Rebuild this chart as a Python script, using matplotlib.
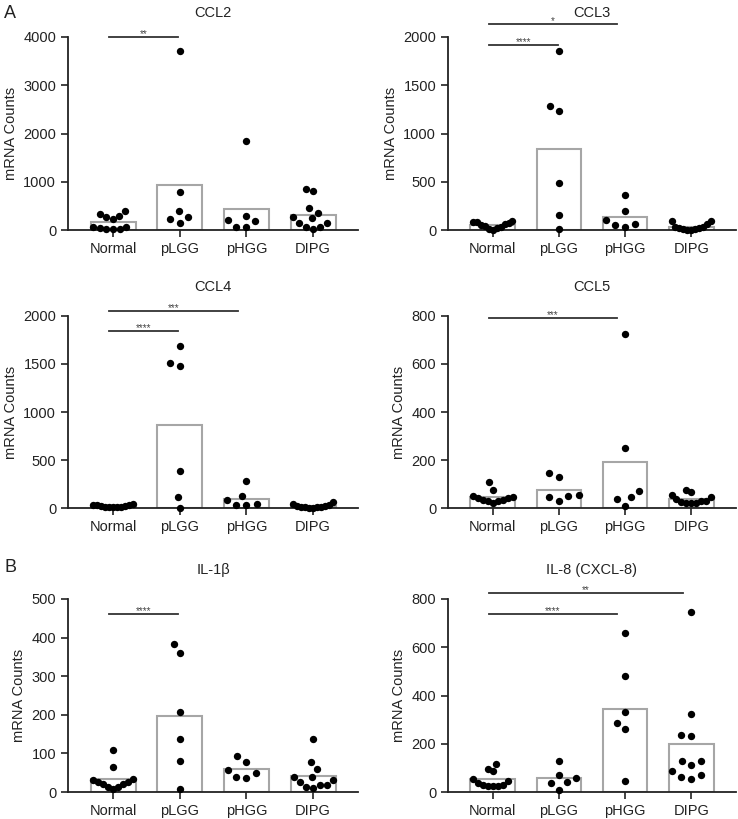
"""Scatter-over-bar plots of chemokine / cytokine mRNA counts by tumour group."""
import numpy as np
import matplotlib
matplotlib.use("Agg")
import matplotlib.pyplot as plt

plt.rcParams["font.family"] = ["Liberation Sans", "DejaVu Sans"]
plt.rcParams["text.color"] = "#222222"
plt.rcParams["axes.labelcolor"] = "#222222"
plt.rcParams["xtick.color"] = "#222222"
plt.rcParams["ytick.color"] = "#222222"

GROUPS = ["Normal", "pLGG", "pHGG", "DIPG"]

# per-sample mRNA counts, one list per group (Normal, pLGG, pHGG, DIPG)
ccl2 = [[388, 235, 291, 263, 332, 55, 28, 14, 14, 42, 55],
        [3702, 782, 277, 152, 228, 394],
        [1848, 291, 187, 69, 69, 208],
        [810, 844, 450, 277, 346, 242, 152, 152, 69, 28, 60]]
ccl3 = [[95, 80, 65, 50, 30, 15, 5, 25, 45, 70, 85],
        [1851, 1284, 1235, 484, 156, 7],
        [363, 197, 107, 62, 31, 55],
        [95, 60, 35, 20, 10, 5, 5, 10, 20, 35, 90]]
ccl4 = [[40, 30, 22, 15, 10, 8, 10, 15, 20, 28, 35],
        [1692, 1512, 1484, 381, 111, 3],
        [284, 128, 45, 28, 28, 80],
        [65, 40, 25, 15, 10, 5, 5, 10, 15, 25, 35]]
ccl5 = [[107, 76, 51, 42, 35, 28, 21, 28, 35, 40, 44],
        [144, 131, 48, 29, 47, 55],
        [725, 249, 71, 47, 10, 37],
        [37, 55, 76, 66, 46, 28, 22, 20, 22, 25, 30]]
il1b = [[108, 65, 33, 27, 20, 13, 8, 13, 20, 27, 32],
        [384, 361, 206, 138, 81, 9],
        [92, 78, 56, 49, 37, 39],
        [138, 77, 59, 38, 38, 30, 26, 17, 11, 13, 17]]
il8 = [[97, 87, 118, 46, 55, 30, 24, 24, 24, 30, 39],
       [128, 69, 60, 40, 39, 10],
       [659, 482, 333, 287, 261, 44],
       [746, 322, 234, 237, 129, 111, 129, 86, 72, 62, 55]]

# significance: (group a, group b, stars)
ccl2_sig = [(0, 1, "**")]
ccl3_sig = [(0, 1, "****"), (0, 2, "*")]
ccl4_sig = [(0, 1, "****"), (0, 2, "***")]
ccl5_sig = [(0, 2, "***")]
il1b_sig = [(0, 1, "****")]
il8_sig = [(0, 2, "****"), (0, 3, "**")]

W, H = 738, 819
fig = plt.figure(figsize=(W / 100, H / 100), dpi=100)


def px_axes(x0, y_top, x1, y_bot):
    return fig.add_axes([x0 / W, 1 - y_bot / H, (x1 - x0) / W, (y_bot - y_top) / H])


def swarm(ax, xc, vals, size_px=10.5, max_half=0.3):
    vals = np.asarray(vals, float)
    tr = ax.transData
    ypx = tr.transform(np.column_stack([np.zeros_like(vals), vals]))[:, 1]
    xunit = tr.transform((1, 0))[0] - tr.transform((0, 0))[0]
    offs = np.zeros(len(vals))
    placed = []
    for i in np.argsort(ypx, kind="stable"):
        y = ypx[i]
        cands = [0.0]
        for px, py in placed:
            dy = y - py
            if abs(dy) < size_px:
                dx = np.sqrt(size_px ** 2 - dy ** 2)
                cands += [px - dx, px + dx]
        cands.sort(key=abs)
        for c in cands:
            if all((c - px) ** 2 + (y - py) ** 2 >= size_px ** 2 - 1e-6 for px, py in placed):
                break
        placed.append((c, y))
        offs[i] = c
    offs = offs / xunit
    lim = np.abs(offs).max()
    if lim > max_half:
        offs *= max_half / lim
    ax.scatter(xc + offs, vals, s=28, color="black", linewidths=0, zorder=3, clip_on=False)


def panel(ax, title, data, ymax, step, sigs, heights, title_y=1.15):
    ax.set_xlim(-0.675, 3.675)
    ax.set_ylim(0, ymax)
    x = np.arange(len(GROUPS))
    means = [np.mean(v) for v in data]
    ax.bar(x, means, width=0.675, facecolor="white", edgecolor="#a6a6a6", linewidth=1.5, zorder=2)
    for xi, v in zip(x, data):
        swarm(ax, xi, v)
    for (a, b, stars), h in zip(sigs, heights):
        xa = a - 0.06
        xb = b - (0.12 if b - a > 1 else 0.02)
        ax.plot([xa, xb], [h, h], color="#333333", lw=1.3, clip_on=False, zorder=4)
        ax.annotate(stars, ((xa + xb) / 2, h), xytext=(0, -1.5), textcoords="offset points",
                    ha="center", va="bottom", fontsize=7, color="#444444", annotation_clip=False)
    ax.set_xticks(x)
    ax.set_xticklabels(GROUPS, fontsize=10.5)
    ax.set_yticks(np.arange(0, ymax + 1, step))
    ax.tick_params(axis="y", labelsize=10.5, length=5, width=1.2)
    ax.tick_params(axis="x", length=5, width=1.2)
    for s in ("top", "right"):
        ax.spines[s].set_visible(False)
    for s in ("left", "bottom"):
        ax.spines[s].set_linewidth(1.3)
        ax.spines[s].set_color("#222222")
    ax.set_ylabel("mRNA Counts", fontsize=10.5)
    ax.text(0.5, title_y, title, transform=ax.transAxes, ha="center", va="center", fontsize=10.5)


ax1 = px_axes(68, 37, 358, 230)
panel(ax1, "CCL2", ccl2, 4000, 1000, ccl2_sig, [4000], title_y=1.125)
ax2 = px_axes(448, 37, 736, 230)
panel(ax2, "CCL3", ccl3, 2000, 500, ccl3_sig, [1913, 2135], title_y=1.125)
ax3 = px_axes(68, 316, 358, 508)
panel(ax3, "CCL4", ccl4, 2000, 500, ccl4_sig, [1844, 2052])
ax4 = px_axes(448, 316, 736, 508)
panel(ax4, "CCL5", ccl5, 800, 200, ccl5_sig, [793])
ax5 = px_axes(68, 599, 358, 792)
panel(ax5, "IL-1\u03b2", il1b, 500, 100, il1b_sig, [461])
ax6 = px_axes(448, 599, 736, 792)
panel(ax6, "IL-8 (CXCL-8)", il8, 800, 200, il8_sig, [739, 825])

fig.text(4 / W, 1 - 13 / H, "A", fontsize=13, ha="left", va="center")
fig.text(4 / W, 1 - 568 / H, "B", fontsize=13, ha="left", va="center")

fig.savefig("out.png", dpi=100)
